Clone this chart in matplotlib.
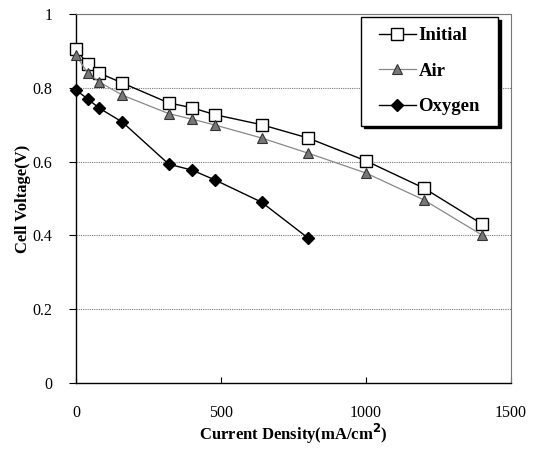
import matplotlib
matplotlib.use("Agg")
import matplotlib.pyplot as plt
from matplotlib.path import Path

x_initial = [0, 40, 80, 160, 320, 400, 480, 640, 800, 1000, 1200, 1400]
v_initial = [0.905, 0.864, 0.840, 0.813, 0.759, 0.746, 0.727, 0.700, 0.664, 0.602, 0.528, 0.431]
x_air = [0, 40, 80, 160, 320, 400, 480, 640, 800, 1000, 1200, 1400]
v_air = [0.889, 0.840, 0.816, 0.780, 0.730, 0.715, 0.699, 0.664, 0.623, 0.569, 0.496, 0.401]
x_oxy = [0, 40, 80, 160, 320, 400, 480, 640, 800]
v_oxy = [0.794, 0.770, 0.745, 0.707, 0.593, 0.577, 0.550, 0.490, 0.393]
xticks = [0, 500, 1000, 1500]
yticks = [0, 0.2, 0.4, 0.6, 0.8, 1.0]
ytick_labels = ["0", "0.2", "0.4", "0.6", "0.8", "1"]

plt.rcParams['font.family'] = ['Liberation Serif', 'DejaVu Serif']

fig = plt.figure(figsize=(5.39, 4.58), dpi=100)
ax = fig.add_axes([0.141, 0.1638, 0.807, 0.8056])

ax.plot(x_initial, v_initial, color='black', lw=1.0, marker='s', ms=8,
        mfc='white', mec='black', mew=1.0, label='Initial', zorder=3, clip_on=False)
ax.plot(x_air, v_air, color='#888888', lw=0.9, marker='^', ms=7,
        mfc='#777777', mec='#333333', mew=0.8, label='Air', zorder=3, clip_on=False)
ax.plot(x_oxy, v_oxy, color='black', lw=1.0, marker='D', ms=6.5,
        mfc='black', mec='black', label='Oxygen', zorder=3, clip_on=False)

ax.set_xlim(0, 1500)
ax.set_ylim(0, 1.0)
ax.set_xticks(xticks)
ax.set_xticklabels([str(t) for t in xticks])
ax.set_yticks(yticks)
ax.set_yticklabels(ytick_labels)
ax.tick_params(axis='x', direction='in', length=4, pad=16, labelsize=11.5)
ax.tick_params(axis='y', direction='out', length=5, pad=12, labelsize=11.5)

for y in yticks[1:]:
    ax.axhline(y, color='#777777', lw=0.8, ls=(0, (1, 1)), zorder=1)

ax.spines['left'].set_color('black')
ax.spines['bottom'].set_color('black')
ax.spines['left'].set_linewidth(1.0)
ax.spines['bottom'].set_linewidth(1.0)
for s in ['top', 'right']:
    ax.spines[s].set_color('#777777')
    ax.spines[s].set_linestyle((0, (1, 1)))
    ax.spines[s].set_linewidth(0.8)

ax.set_xlabel('Current Density(mA/cm$^\\mathbf{2}$)', fontsize=12, fontweight='bold')
ax.xaxis.set_label_coords(0.5, -0.106)
ax.set_ylabel('Cell Voltage(V)', fontsize=12, fontweight='bold')
ax.yaxis.set_label_coords(-0.104, 0.5)


def wide_box(x0, y0, width, height, mutation_size):
    extra = 0.4 * mutation_size
    x0 -= extra
    width += 2 * extra
    verts = [(x0, y0), (x0 + width, y0), (x0 + width, y0 + height),
             (x0, y0 + height), (x0, y0)]
    codes = [Path.MOVETO, Path.LINETO, Path.LINETO, Path.LINETO, Path.CLOSEPOLY]
    return Path(verts, codes)


leg = ax.legend(loc='upper right', bbox_to_anchor=(0.9526, 0.992), borderaxespad=0,
                prop={'weight': 'bold', 'size': 13.5}, fancybox=False,
                shadow={'color': 'black', 'alpha': 1.0},
                edgecolor='black', framealpha=1, handlelength=1.95, labelspacing=0.98,
                borderpad=0.55, handletextpad=0.15)
leg.get_frame().set_boxstyle(wide_box)
leg.get_frame().set_linewidth(1.0)

fig.savefig('out.png', dpi=100)
